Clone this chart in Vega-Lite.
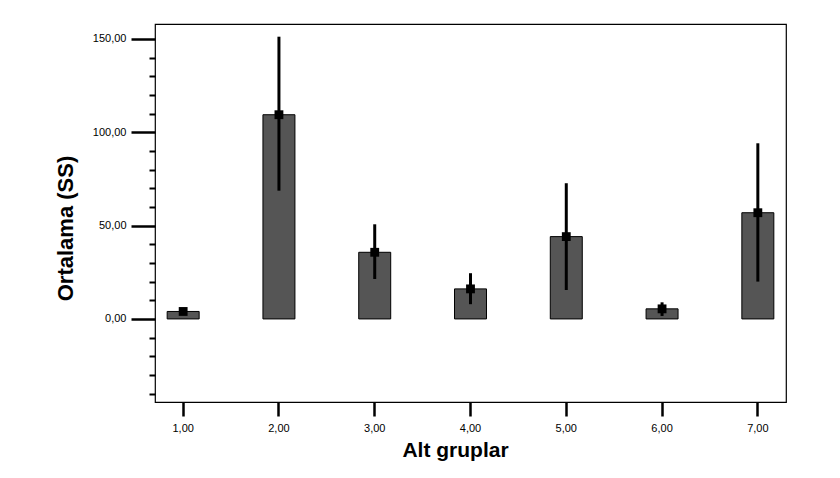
{
  "$schema": "https://vega.github.io/schema/vega-lite/v6.json",
  "autosize": {"type": "none"},
  "padding": {"left": 155, "top": 24, "right": 54, "bottom": 76},
  "width": 631,
  "height": 378,
  "background": "white",
  "config": {
    "view": {"stroke": "black", "strokeWidth": 1.2},
    "font": "Liberation Sans",
    "axis": {"domain": false, "grid": false, "tickColor": "black", "labelColor": "black", "titleColor": "black", "labelOverlap": false},
    "axisY": {
      "title": "Ortalama (SS)",
      "values": [-40, -30, -20, -10, 0, 10, 20, 30, 40, 50, 60, 70, 80, 90, 100, 110, 120, 130, 140, 150],
      "labelFont": "Liberation Sans Narrow, Liberation Sans",
      "labelFontSize": 11,
      "labelPadding": 5,
      "titleFont": "Liberation Sans",
      "titleFontSize": 22,
      "titleFontWeight": "bold",
      "titleAngle": -90,
      "titleX": -90,
      "titleY": 204,
      "titleAlign": "center",
      "titleBaseline": "middle"
    }
  },
  "data": {
    "values": [
      {"grup": 1, "mean": 4.0, "lo": 2.5, "hi": 5.6},
      {"grup": 2, "mean": 109.4, "lo": 68.7, "hi": 151.2},
      {"grup": 3, "mean": 35.7, "lo": 21.4, "hi": 50.7},
      {"grup": 4, "mean": 16.1, "lo": 7.9, "hi": 24.5},
      {"grup": 5, "mean": 44.1, "lo": 15.5, "hi": 72.7},
      {"grup": 6, "mean": 5.4, "lo": 1.6, "hi": 8.9},
      {"grup": 7, "mean": 56.9, "lo": 20.0, "hi": 94.1}
    ]
  },
  "encoding": {
    "x": {
      "field": "grup",
      "type": "ordinal",
      "scale": {"paddingInner": 0.666, "paddingOuter": 0.127},
      "axis": {
        "title": "Alt gruplar",
        "labelAngle": 0,
        "labelExpr": "replace(format(datum.value, '.2f'), '.', ',')",
        "labelFont": "Liberation Sans Narrow, Liberation Sans",
        "labelFontSize": 11,
        "labelPadding": 6,
        "tickSize": 14,
        "tickWidth": 2.5,
        "titleFont": "Liberation Sans",
        "titleFontSize": 21,
        "titleFontWeight": "bold",
        "titleX": 300,
        "titleY": 54,
        "titleAlign": "center",
        "titleBaseline": "alphabetic"
      }
    }
  },
  "layer": [
    {
      "mark": {"type": "bar", "fill": "#555555", "stroke": "black", "strokeWidth": 1},
      "encoding": {
        "y": {
          "field": "mean",
          "type": "quantitative",
          "title": "Ortalama (SS)",
          "scale": {"domain": [-44.5, 158], "nice": false, "zero": false},
          "axis": {
            "values": [-40, -30, -20, -10, 0, 10, 20, 30, 40, 50, 60, 70, 80, 90, 100, 110, 120, 130, 140, 150],
            "labelExpr": "datum.value % 50 === 0 ? replace(format(datum.value, '.2f'), '.', ',') : ''",
            "tickSize": {"condition": {"test": "datum.value % 50 === 0", "value": 24}, "value": 6},
            "tickWidth": {"condition": {"test": "datum.value % 50 === 0", "value": 2.5}, "value": 2}
          }
        }
      }
    },
    {
      "mark": {"type": "rule", "color": "black", "strokeWidth": 3},
      "encoding": {
        "y": {
          "field": "lo",
          "type": "quantitative",
          "title": "Ortalama (SS)",
          "axis": {
            "values": [-40, -30, -20, -10, 0, 10, 20, 30, 40, 50, 60, 70, 80, 90, 100, 110, 120, 130, 140, 150],
            "labelExpr": "datum.value % 50 === 0 ? replace(format(datum.value, '.2f'), '.', ',') : ''",
            "tickSize": {"condition": {"test": "datum.value % 50 === 0", "value": 24}, "value": 6},
            "tickWidth": {"condition": {"test": "datum.value % 50 === 0", "value": 2.5}, "value": 2}
          }
        },
        "y2": {"field": "hi"}
      }
    },
    {
      "mark": {"type": "point", "shape": "square", "filled": true, "color": "black", "opacity": 1, "size": 78},
      "encoding": {
        "y": {
          "field": "mean",
          "type": "quantitative",
          "title": "Ortalama (SS)",
          "axis": {
            "values": [-40, -30, -20, -10, 0, 10, 20, 30, 40, 50, 60, 70, 80, 90, 100, 110, 120, 130, 140, 150],
            "labelExpr": "datum.value % 50 === 0 ? replace(format(datum.value, '.2f'), '.', ',') : ''",
            "tickSize": {"condition": {"test": "datum.value % 50 === 0", "value": 24}, "value": 6},
            "tickWidth": {"condition": {"test": "datum.value % 50 === 0", "value": 2.5}, "value": 2}
          }
        }
      }
    }
  ]
}
